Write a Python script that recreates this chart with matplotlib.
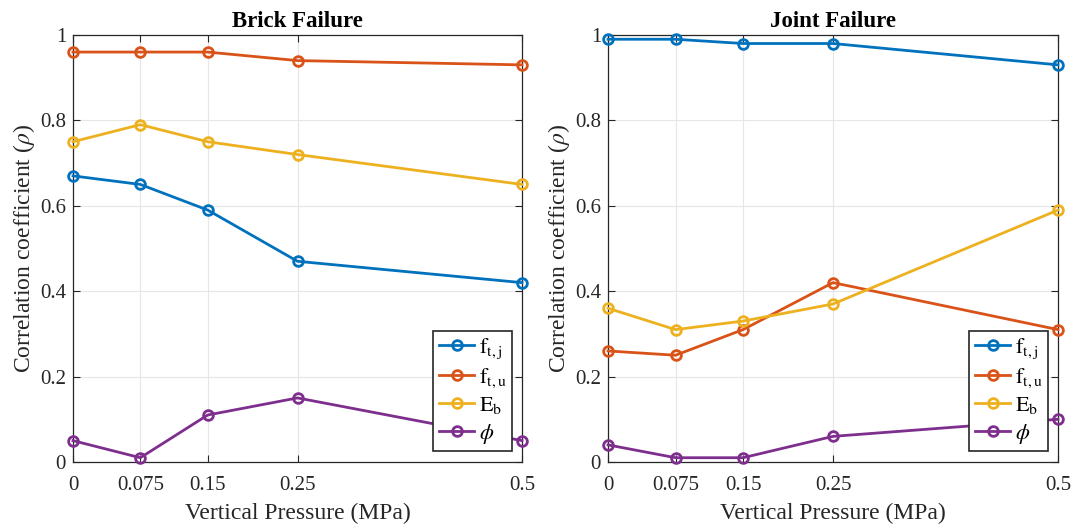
import numpy as np
import matplotlib
matplotlib.use("Agg")
from matplotlib import pyplot as plt

plt.rcParams['font.family'] = ['Liberation Serif', 'DejaVu Serif']
plt.rcParams['mathtext.fontset'] = 'stix'

pressure = [0, 0.075, 0.15, 0.25, 0.5]
xtick_labels = ['0', '0.075', '0.15', '0.25', '0.5']
series_labels = [r'$\mathrm{f}_{\mathrm{t,j}}$', r'$\mathrm{f}_{\mathrm{t,u}}$',
                 r'$\mathrm{E}_{\mathrm{b}}$', r'$\phi$']

# brick failure
brick_ftj = [0.67, 0.65, 0.59, 0.47, 0.42]
brick_ftu = [0.96, 0.96, 0.96, 0.94, 0.93]
brick_eb = [0.75, 0.79, 0.75, 0.72, 0.65]
brick_phi = [0.05, 0.01, 0.11, 0.15, 0.05]

# joint failure
joint_ftj = [0.99, 0.99, 0.98, 0.98, 0.93]
joint_ftu = [0.26, 0.25, 0.31, 0.42, 0.31]
joint_eb = [0.36, 0.31, 0.33, 0.37, 0.59]
joint_phi = [0.04, 0.01, 0.01, 0.06, 0.10]

colors = ['#0072BD', '#D95319', '#EDB120', '#7E2F8E']

fig = plt.figure(figsize=(10.75, 5.26), dpi=100)
ax1 = fig.add_axes([0.0679, 0.1217, 0.4177, 0.8118])
ax2 = fig.add_axes([0.5656, 0.1217, 0.4186, 0.8118])


def draw_panel(ax, title, data):
    for vals, col, lab in zip(data, colors, series_labels):
        ax.plot(pressure, vals, '-o', color=col, lw=2, ms=7, mew=2,
                mfc='none', label=lab, clip_on=False, zorder=3)
    ax.set_xlim(0, 0.5)
    ax.set_ylim(0, 1)
    ax.set_xticks(pressure)
    ax.set_xticklabels(xtick_labels)
    ax.set_yticks([0, 0.2, 0.4, 0.6, 0.8, 1])
    ax.set_yticklabels(['0', '0.2', '0.4', '0.6', '0.8', '1'])
    ax.tick_params(direction='in', top=True, right=True, labelsize=15,
                   length=5, width=0.8, colors='#262626')
    ax.tick_params(axis='x', pad=10)
    ax.tick_params(axis='y', pad=5)
    ax.grid(True, color='#e6e6e6', lw=0.8)
    for s in ax.spines.values():
        s.set_color('#262626')
        s.set_linewidth(0.9)
    ax.set_title(title, fontsize=16.5, fontweight='bold', pad=6)
    ax.set_xlabel('Vertical Pressure (MPa)', fontsize=17, color='#262626',
                  labelpad=6)
    ax.set_ylabel(r'Correlation coefficient ($\rho$)', fontsize=17,
                  color='#262626', labelpad=2)
    leg = ax.legend(loc='lower right', bbox_to_anchor=(0.978, 0.025),
                    fontsize=16, fancybox=False, edgecolor='#262626',
                    framealpha=1, borderaxespad=0, handlelength=1.6,
                    handletextpad=0.2, labelspacing=0.25, borderpad=0.25)
    leg.get_frame().set_linewidth(1.2)
    leg.set_zorder(5)


draw_panel(ax1, 'Brick Failure', [brick_ftj, brick_ftu, brick_eb, brick_phi])
draw_panel(ax2, 'Joint Failure', [joint_ftj, joint_ftu, joint_eb, joint_phi])

fig.savefig('out.png', dpi=100)
